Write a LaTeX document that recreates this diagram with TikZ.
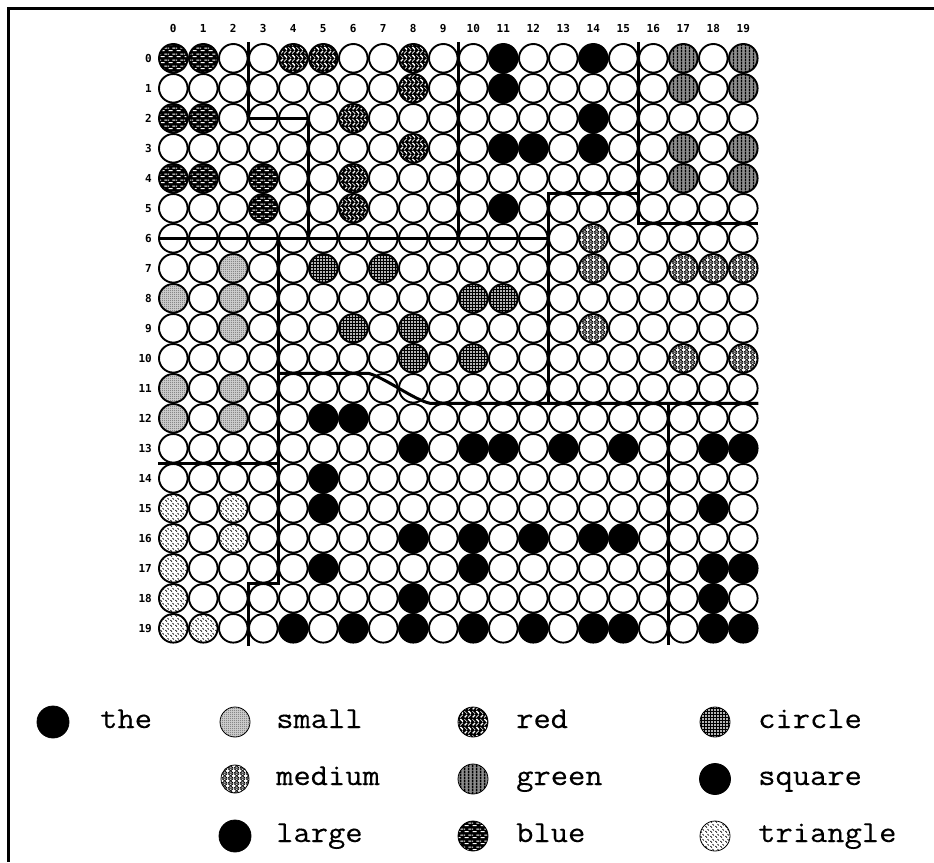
\documentclass[tikz,border=0pt]{standalone}
\usepackage{fontspec}
\usetikzlibrary{patterns}
\newfontfamily\legfont[FakeStretch=1.1,FakeBold=0.3]{Latin Modern Mono}
\newfontfamily\labfont{DejaVu Sans Mono Bold}

\pgfdeclarepatternformonly{pbricks}{\pgfqpoint{0pt}{0pt}}{\pgfqpoint{8pt}{6pt}}{\pgfqpoint{8pt}{6pt}}{%
  \pgfsetlinewidth{1.2pt}%
  \pgfpathmoveto{\pgfqpoint{0.8pt}{1.5pt}}\pgfpathlineto{\pgfqpoint{5.2pt}{1.5pt}}%
  \pgfpathmoveto{\pgfqpoint{4.8pt}{4.5pt}}\pgfpathlineto{\pgfqpoint{8pt}{4.5pt}}%
  \pgfpathmoveto{\pgfqpoint{0pt}{4.5pt}}\pgfpathlineto{\pgfqpoint{1.2pt}{4.5pt}}%
  \pgfusepath{stroke}}
\pgfdeclarepatternformonly{pweave}{\pgfqpoint{0pt}{0pt}}{\pgfqpoint{8pt}{8pt}}{\pgfqpoint{8pt}{8pt}}{%
  \pgfsetlinewidth{0.7pt}%
  \pgfpathmoveto{\pgfqpoint{0.5pt}{1pt}}\pgfpathlineto{\pgfqpoint{3pt}{3.5pt}}%
  \pgfpathmoveto{\pgfqpoint{1pt}{0.5pt}}\pgfpathlineto{\pgfqpoint{3.5pt}{3pt}}%
  \pgfpathmoveto{\pgfqpoint{4.5pt}{7.5pt}}\pgfpathlineto{\pgfqpoint{7.5pt}{4.5pt}}%
  \pgfpathmoveto{\pgfqpoint{5.2pt}{7.8pt}}\pgfpathlineto{\pgfqpoint{7.8pt}{5.2pt}}%
  \pgfpathmoveto{\pgfqpoint{4.5pt}{0.5pt}}\pgfpathlineto{\pgfqpoint{7.5pt}{3.5pt}}%
  \pgfpathmoveto{\pgfqpoint{0.5pt}{7.5pt}}\pgfpathlineto{\pgfqpoint{3.5pt}{4.5pt}}%
  \pgfusepath{stroke}}
\pgfdeclarepatternformonly{pgrid}{\pgfqpoint{0pt}{0pt}}{\pgfqpoint{3.4pt}{3.4pt}}{\pgfqpoint{3.4pt}{3.4pt}}{%
  \pgfsetlinewidth{1.3pt}%
  \pgfpathmoveto{\pgfqpoint{0pt}{1.7pt}}\pgfpathlineto{\pgfqpoint{3.4pt}{1.7pt}}%
  \pgfpathmoveto{\pgfqpoint{1.7pt}{0pt}}\pgfpathlineto{\pgfqpoint{1.7pt}{3.4pt}}%
  \pgfusepath{stroke}}
\pgfdeclarepatternformonly{pscale}{\pgfqpoint{0pt}{0pt}}{\pgfqpoint{6pt}{5pt}}{\pgfqpoint{6pt}{5pt}}{%
  \pgfsetlinewidth{0.75pt}%
  \pgfpathmoveto{\pgfqpoint{0pt}{0pt}}\pgfpathlineto{\pgfqpoint{6pt}{0pt}}%
  \pgfpathmoveto{\pgfqpoint{0pt}{5pt}}\pgfpathlineto{\pgfqpoint{6pt}{5pt}}%
  \pgfpathmoveto{\pgfqpoint{0pt}{0pt}}\pgfpathlineto{\pgfqpoint{6pt}{5pt}}%
  \pgfpathmoveto{\pgfqpoint{6pt}{0pt}}\pgfpathlineto{\pgfqpoint{0pt}{5pt}}%
  \pgfusepath{stroke}}
\pgfdeclarepatternformonly{pvert}{\pgfqpoint{0pt}{0pt}}{\pgfqpoint{3.5pt}{3pt}}{\pgfqpoint{3.5pt}{3pt}}{%
  \pgfsetlinewidth{1.5pt}%
  \pgfpathmoveto{\pgfqpoint{1.75pt}{0pt}}\pgfpathlineto{\pgfqpoint{1.75pt}{3pt}}%
  \pgfusepath{stroke}}
\pgfdeclarepatternformonly{pdots}{\pgfqpoint{0pt}{0pt}}{\pgfqpoint{2.2pt}{2.2pt}}{\pgfqpoint{2.2pt}{2.2pt}}{%
  \pgfpathcircle{\pgfqpoint{1.1pt}{1.1pt}}{0.55pt}%
  \pgfusepath{fill}}
\pgfdeclarepatternformonly{pdash}{\pgfqpoint{0pt}{0pt}}{\pgfqpoint{5pt}{5pt}}{\pgfqpoint{5pt}{5pt}}{%
  \pgfsetlinewidth{0.9pt}%
  \pgfpathmoveto{\pgfqpoint{0.5pt}{2.3pt}}\pgfpathlineto{\pgfqpoint{2.3pt}{0.5pt}}%
  \pgfpathmoveto{\pgfqpoint{3pt}{4.5pt}}\pgfpathlineto{\pgfqpoint{4.5pt}{3pt}}%
  \pgfusepath{stroke}}

\begin{document}
\begin{tikzpicture}[x=1pt,y=-1pt,
  cell/.style={circle, draw=black, line width=1.9pt, minimum size=28.6pt, inner sep=0pt},
  emp/.style={fill=white},
  blk/.style={fill=black},
  blu/.style={preaction={fill=black}, pattern=pbricks, pattern color=white},
  rd/.style={preaction={fill=black}, pattern=pweave, pattern color=white},
  grn/.style={preaction={fill=black!45}, pattern=pvert, pattern color=black},
  med/.style={preaction={fill=white}, pattern=pscale, pattern color=black},
  crc/.style={preaction={fill=white}, pattern=pgrid, pattern color=black},
  sml/.style={preaction={fill=black!18}, pattern=pdots, pattern color=black},
  tri/.style={preaction={fill=white}, pattern=pdash, pattern color=black},
  lab/.style={font=\labfont\fontsize{11}{11}\selectfont, inner sep=0pt},
  part/.style={line width=3pt},
  leg/.style={circle, draw=black, line width=0.8pt, minimum size=30pt, inner sep=0pt},
  legtext/.style={font=\legfont\fontsize{30.5}{31}\selectfont, anchor=base west, inner sep=0pt}]
\useasboundingbox (0,0) rectangle (934,862);
\fill[white] (0,0) rectangle (934,862);
% frame
\draw[line width=2.5pt] (934,8.5) -- (8.5,8.5) -- (8.5,862);

% cell contents
\foreach \st/\lst in {
  blk/{0/11,0/14,1/11,2/14,3/11,3/12,3/14,5/11,12/5,12/6,13/8,13/10,13/11,13/13,13/15,13/18,13/19,14/5,15/5,15/18,16/8,16/10,16/12,16/14,16/15,17/5,17/10,17/18,17/19,18/8,18/18,19/4,19/6,19/8,19/10,19/12,19/14,19/15,19/18,19/19},
  blu/{0/0,0/1,2/0,2/1,4/0,4/1,4/3,5/3},
  rd/{0/4,0/5,0/8,1/8,2/6,3/8,4/6,5/6},
  grn/{0/17,0/19,1/17,1/19,3/17,3/19,4/17,4/19},
  med/{6/14,7/14,7/17,7/18,7/19,9/14,10/17,10/19},
  crc/{7/5,7/7,8/10,8/11,9/6,9/8,10/8,10/10},
  sml/{7/2,8/0,8/2,9/2,11/0,11/2,12/0,12/2},
  tri/{15/0,15/2,16/0,16/2,17/0,18/0,19/0,19/1}}{%
  \foreach \a/\b in \lst {\expandafter\xdef\csname cl@\a-\b\endcsname{\st}}%
}

\foreach \r in {0,...,19}{%
  \foreach \c in {0,...,19}{%
    \ifcsname cl@\r-\c\endcsname \edef\sty{\csname cl@\r-\c\endcsname}\else \def\sty{emp}\fi
    \pgfmathsetmacro\xx{173.3+30*\c}%
    \pgfmathsetmacro\yy{58.3+30*\r}%
    \edef\tmp{\noexpand\node[cell,\sty] (n\r-\c) at (\xx,\yy) {};}\tmp
  }%
}

% labels
\foreach \c in {0,...,19}{\node[lab] (cl\c) at ({173.3+30*\c},28.5) {\c};}
\foreach \r in {0,...,19}{\node[lab, anchor=east] (rl\r) at (152,{58.3+30*\r}) {\r};}

% partition lines
\draw[part] (248.3,42) -- (248.3,118.3) -- (308.3,118.3) -- (308.3,238.3);
\draw[part] (158.3,238.3) -- (548.3,238.3);
\draw[part] (458.3,42) -- (458.3,238.3);
\draw[part] (638.3,42) -- (638.3,223.3) -- (758.3,223.3);
\draw[part] (548.3,403.3) -- (548.3,193.3) -- (638.3,193.3);
\draw[part] (278.3,238.3) -- (278.3,583.3) -- (248.3,583.3) -- (248.3,646);
\draw[part] (158.3,463.3) -- (278.3,463.3);
\draw[part] (278.3,373.3) -- (368.3,373.3) .. controls (384,377) and (414,400) .. (430,403.3) -- (758.3,403.3);
\draw[part] (668.3,403.3) -- (668.3,645);

% legend
\node[leg,blk,minimum size=32pt] (kthe) at (53,722) {};
\node[legtext] (tthe) at (100,728) {the};
\node[leg,sml] (ksmall) at (235,722) {};
\node[legtext] (tsmall) at (276,728) {small};
\node[leg,med,minimum size=28pt] (kmedium) at (235,779) {};
\node[legtext] (tmedium) at (276,785) {medium};
\node[leg,blk,minimum size=32pt] (klarge) at (235,836) {};
\node[legtext] (tlarge) at (276,842) {large};
\node[leg,rd] (kred) at (473,722) {};
\node[legtext] (tred) at (516,728) {red};
\node[leg,grn] (kgreen) at (473,779) {};
\node[legtext] (tgreen) at (516,785) {green};
\node[leg,blu] (kblue) at (473,836) {};
\node[legtext] (tblue) at (516,842) {blue};
\node[leg,crc] (kcircle) at (715,722) {};
\node[legtext] (tcircle) at (758,728) {circle};
\node[leg,blk,minimum size=31pt] (ksquare) at (715,779) {};
\node[legtext] (tsquare) at (758,785) {square};
\node[leg,tri] (ktriangle) at (715,836) {};
\node[legtext] (ttriangle) at (758,842) {triangle};
\end{tikzpicture}
\end{document}
